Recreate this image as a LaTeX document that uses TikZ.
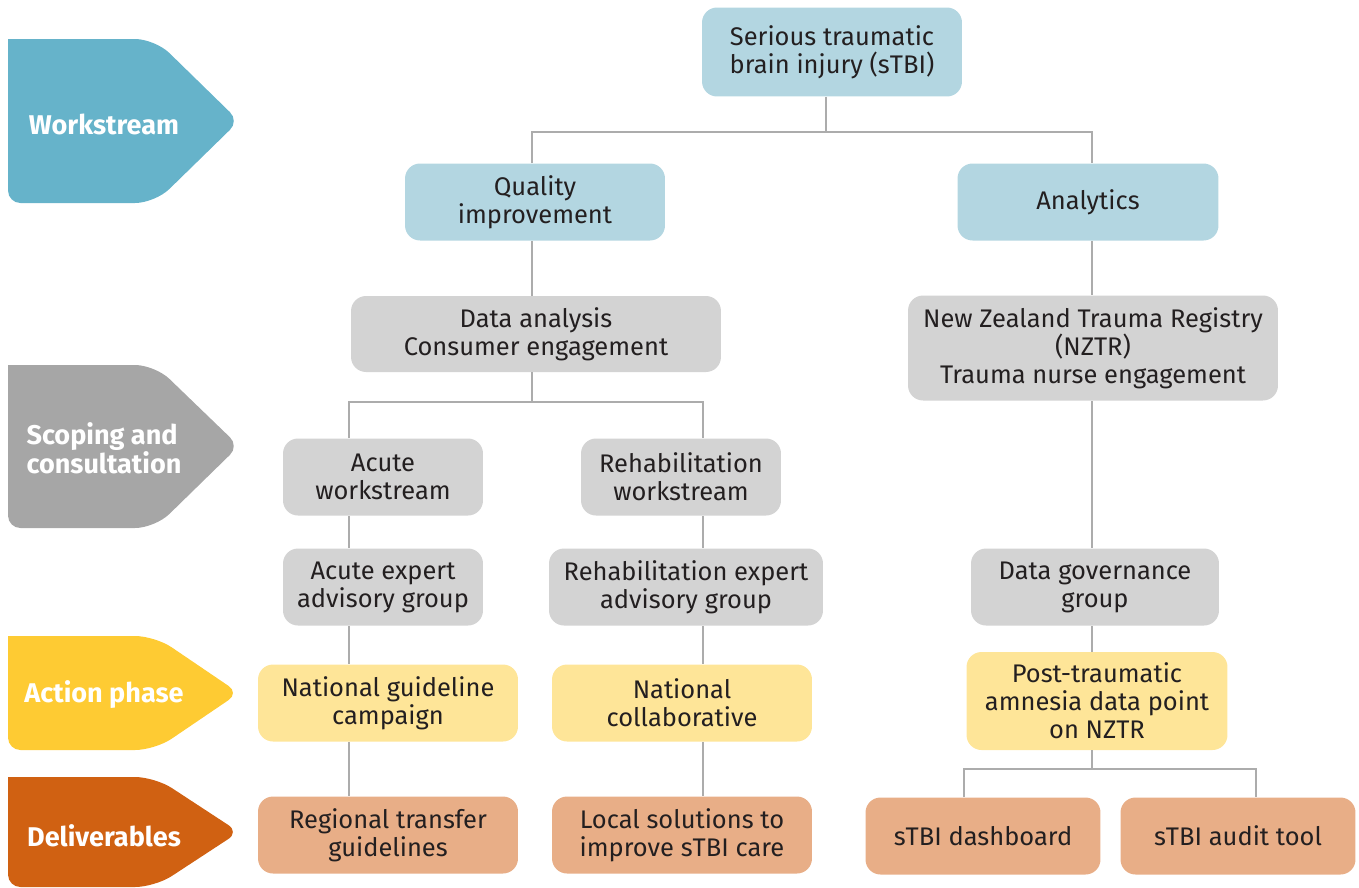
\documentclass[tikz,border=0pt]{standalone}
\usepackage{fontspec}
\setmainfont{Fira Sans}
\usepackage{tikz}
\usepackage{xcolor}
\definecolor{wsblue}{HTML}{66B3CA}
\definecolor{boxblue}{HTML}{B3D6E1}
\definecolor{scgrey}{HTML}{A6A6A6}
\definecolor{boxgrey}{HTML}{D3D3D3}
\definecolor{actyel}{HTML}{FECB33}
\definecolor{boxyel}{HTML}{FEE598}
\definecolor{delor}{HTML}{D06112}
\definecolor{boxor}{HTML}{E8AE87}
\definecolor{txtcol}{HTML}{231F20}
\definecolor{linecol}{HTML}{ACACAC}
\begin{document}
\begin{tikzpicture}[x=0.02cm,y=-0.02cm]
					\tikzstyle{every node}+=[inner sep=0pt,text=txtcol,font=\fontsize{14.5}{16}\selectfont,align=center]
					\tikzstyle{box}=[rounded corners=0.3cm,minimum height=1.54cm]
					\tikzstyle{tag}=[text=white,font=\fontsize{15.4}{16.5}\selectfont\bfseries,align=left]
					\tikzstyle{link}=[draw=linecol,line width=0.85pt]
					\useasboundingbox (0,0) rectangle (1359,887);
					% phase tags
					\fill [wsblue] (8,39) [rounded corners=0.4cm] -- (155,39) [rounded corners=0.25cm] -- (239,121) [rounded corners=0.4cm] -- (155,203) [rounded corners=0.25cm] -- (8,203) [sharp corners] -- cycle;
					\node [tag] (tws) at (104,124) {Workstream};
					\fill [scgrey] (8,365) [rounded corners=0.4cm] -- (155,365) [rounded corners=0.25cm] -- (239,446) [rounded corners=0.4cm] -- (155,528) [rounded corners=0.25cm] -- (8,528) [sharp corners] -- cycle;
					\node [tag] (tsc) at (104,448) {Scoping and\\consultation};
					\fill [actyel] (8,636) [rounded corners=0.4cm] -- (155,636) [rounded corners=0.25cm] -- (239,693) [rounded corners=0.4cm] -- (155,750) [rounded corners=0.25cm] -- (8,750) [sharp corners] -- cycle;
					\node [tag] (tac) at (104,695) {Action phase};
					\fill [delor] (8,777) [rounded corners=0.4cm] -- (155,777) [rounded corners=0.25cm] -- (239,832) [rounded corners=0.4cm] -- (155,887) [rounded corners=0.25cm] -- (8,887) [sharp corners] -- cycle;
					\node [tag] (tdl) at (104,836) {Deliverables};
					% workstream
					\node [box,fill=boxblue,minimum width=5.2cm,minimum height=1.78cm] (stbi) at (832,52) {Serious traumatic\\brain injury (sTBI)};
					\node [box,fill=boxblue,minimum width=5.2cm] (qi) at (535,202) {Quality\\improvement};
					\node [box,fill=boxblue,minimum width=5.22cm] (ana) at (1088,202) {Analytics};
					% scoping and consultation
					\node [box,fill=boxgrey,minimum width=7.4cm,minimum height=1.52cm] (data) at (536,334) {Data analysis\\Consumer engagement};
					\node [box,fill=boxgrey,minimum width=7.4cm,minimum height=2.1cm] (nztr) at (1093,348) {New Zealand Trauma Registry\\(NZTR)\\Trauma nurse engagement};
					\node [box,fill=boxgrey,minimum width=4cm] (acute) at (383,477) {Acute\\workstream};
					\node [box,fill=boxgrey,minimum width=4cm] (rehab) at (681,477) {Rehabilitation\\workstream};
					\node [box,fill=boxgrey,minimum width=4cm] (acuteeag) at (383,587) {Acute expert\\advisory group};
					\node [box,fill=boxgrey,minimum width=5.48cm] (rehabeag) at (686,587) {Rehabilitation expert\\advisory group};
					\node [box,fill=boxgrey,minimum width=4.96cm] (dgov) at (1095,587) {Data governance\\group};
					% action phase
					\node [box,fill=boxyel,minimum width=5.2cm] (ngc) at (388,703) {National guideline\\campaign};
					\node [box,fill=boxyel,minimum width=5.2cm] (natcol) at (682,703) {National\\collaborative};
					\node [box,fill=boxyel,minimum width=5.22cm,minimum height=1.96cm] (pta) at (1097,701) {Post-traumatic\\amnesia data point\\on NZTR};
					% deliverables
					\node [box,fill=boxor,minimum width=5.2cm] (rtg) at (388,835) {Regional transfer\\guidelines};
					\node [box,fill=boxor,minimum width=5.2cm] (local) at (682,835) {Local solutions to\\improve sTBI care};
					\node [box,fill=boxor,minimum width=4.7cm] (dash) at (983,836) {sTBI dashboard};
					\node [box,fill=boxor,minimum width=4.7cm] (audit) at (1238,836) {sTBI audit tool};
					% connectors
					\coordinate (topsplit) at (826,132);
					\coordinate (qsplit) at (532,402);
					\coordinate (psplit) at (1092,769);
					\coordinate (acol) at (349,0);
					\coordinate (rcol) at (703,0);
					\coordinate (anacol) at (1092,0);
					\draw [link] (stbi.south -| topsplit) -- (topsplit);
					\draw [link] (qi.north -| qsplit) |- (topsplit) -| (ana.north -| anacol);
					\draw [link] (qi.south -| qsplit) -- (data.north -| qsplit);
					\draw [link] (data.south -| qsplit) -- (qsplit);
					\draw [link] (acute.north -| acol) |- (qsplit) -| (rehab.north -| rcol);
					\draw [link] (acute.south -| acol) -- (acuteeag.north -| acol);
					\draw [link] (acuteeag.south -| acol) -- (ngc.north -| acol);
					\draw [link] (ngc.south -| acol) -- (rtg.north -| acol);
					\draw [link] (rehab.south -| rcol) -- (rehabeag.north -| rcol);
					\draw [link] (rehabeag.south -| rcol) -- (natcol.north -| rcol);
					\draw [link] (natcol.south -| rcol) -- (local.north -| rcol);
					\draw [link] (ana.south -| anacol) -- (nztr.north -| anacol);
					\draw [link] (nztr.south -| anacol) -- (dgov.north -| anacol);
					\draw [link] (dgov.south -| anacol) -- (pta.north -| anacol);
					\draw [link] (pta.south -| psplit) -- (psplit);
					\draw [link] (dash.north -| 964,0) |- (psplit) -| (audit.north -| 1256,0);
					\end{tikzpicture}
\end{document}
